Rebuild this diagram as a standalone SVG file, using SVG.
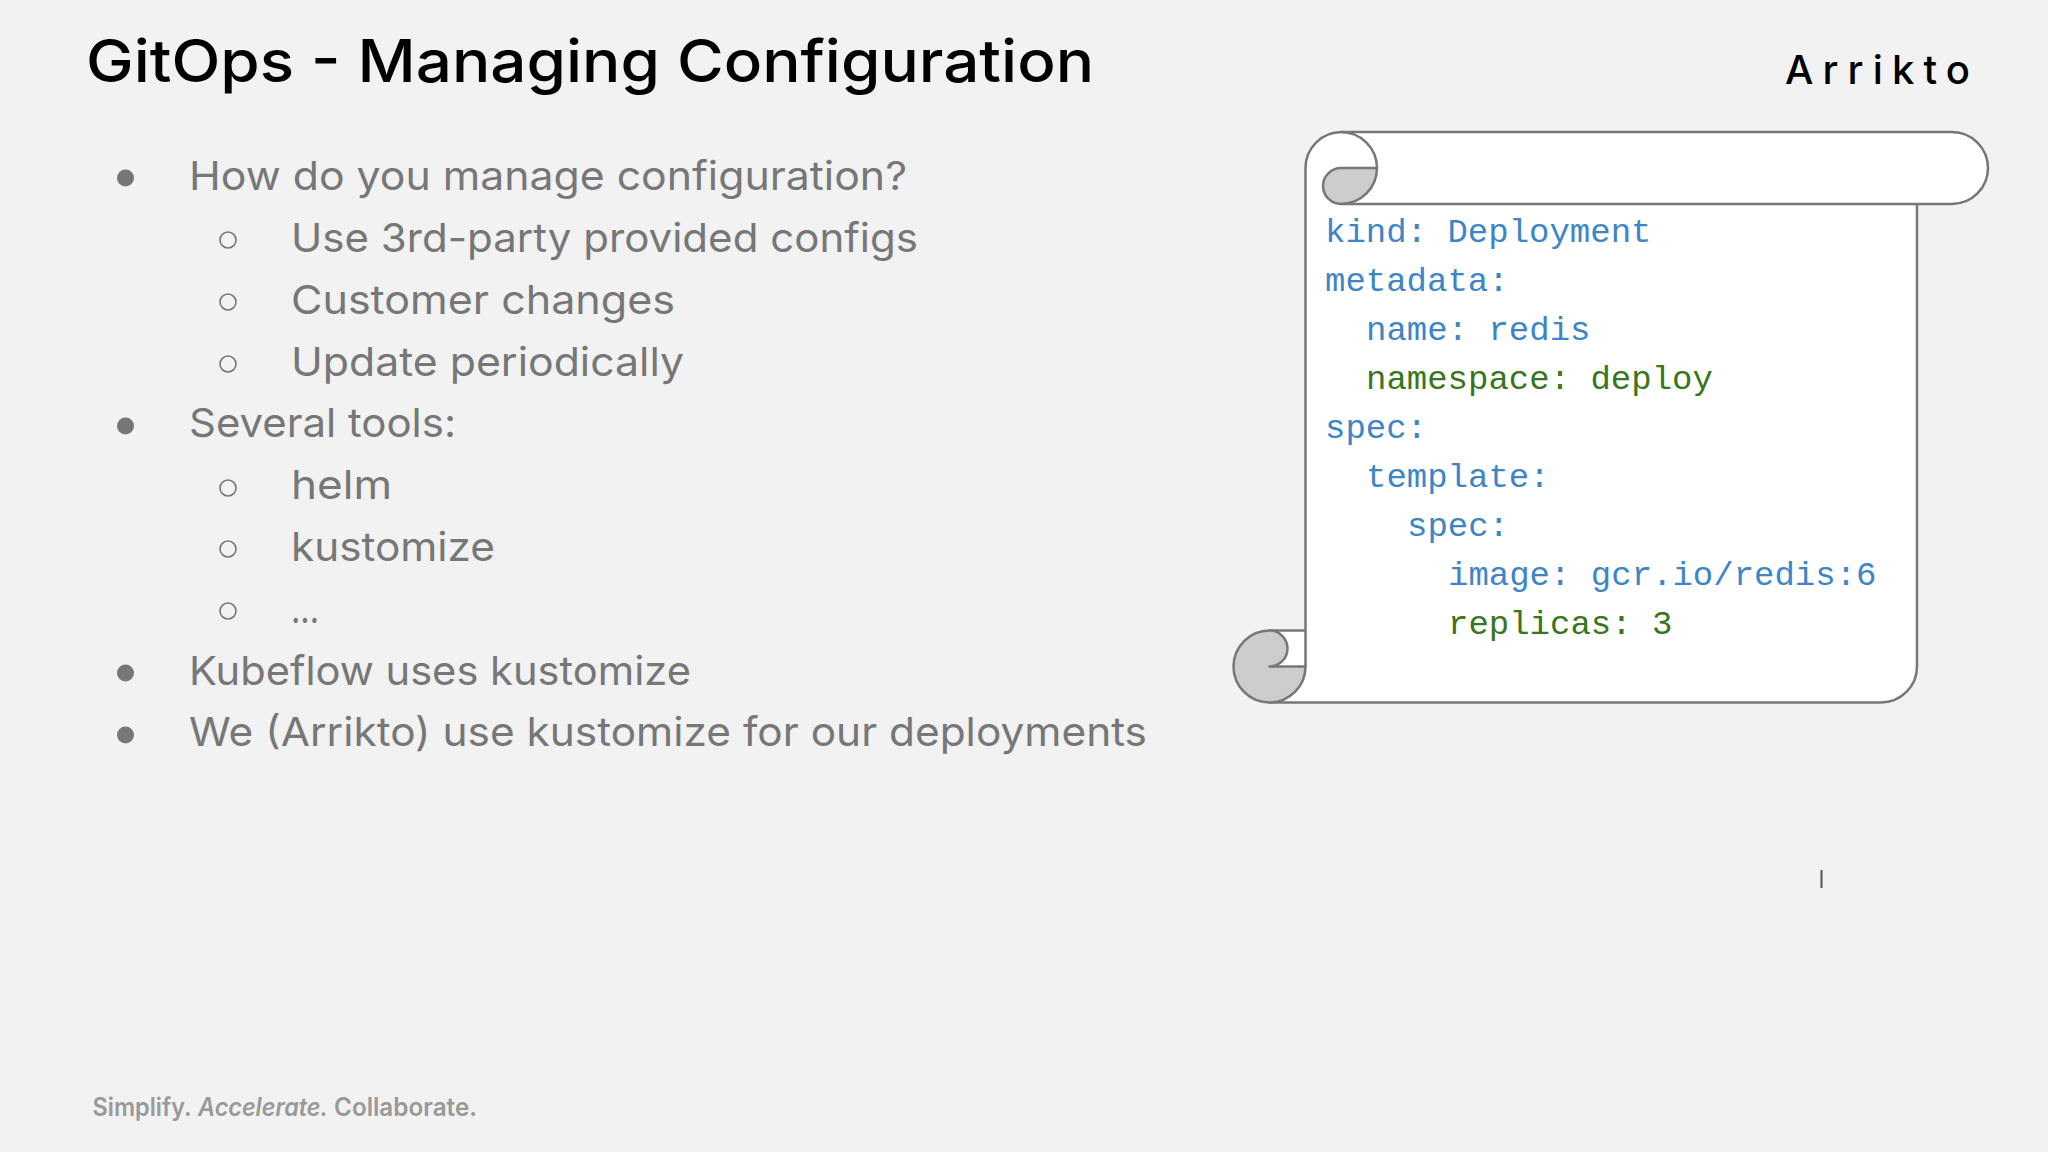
<svg xmlns="http://www.w3.org/2000/svg" width="2048" height="1152" viewBox="0 0 2048 1152">
<style>
.t{font-family:Inter,"Open Sans",sans-serif}
.title{font-size:59px;font-weight:500;fill:#000}
.b{font-size:40px;font-weight:420;fill:#777}
.foot{font-size:25px;font-weight:600;fill:#999}
.code{font-family:"Liberation Mono","DejaVu Sans Mono",monospace;font-size:34px}
.blue{fill:#3d85c6}.green{fill:#38761d}
.s{stroke:#777;stroke-width:2.5;stroke-linejoin:round}
.dot{fill:#777}.ring{fill:none;stroke:#777;stroke-width:1.6}
</style>
<rect width="2048" height="1152" fill="#f2f2f3"/>
<g id="title"><text class="t title" x="86" y="82" textLength="1008" lengthAdjust="spacingAndGlyphs">GitOps - Managing Configuration</text></g>
<g id="logo"><text class="t" x="1785" y="83.500" font-size="40" font-weight="550" fill="#000" textLength="185">Arrikto</text></g>
<g id="bullets">
<circle class="dot" cx="125.5" cy="178" r="8.5"/>
<text class="t b" x="189" y="190" textLength="718" lengthAdjust="spacingAndGlyphs">How do you manage configuration?</text>
<circle class="ring" cx="228" cy="240" r="8"/>
<text class="t b" x="291" y="252" textLength="627" lengthAdjust="spacingAndGlyphs">Use 3rd-party provided configs</text>
<circle class="ring" cx="228" cy="302" r="8"/>
<text class="t b" x="291" y="314" textLength="384" lengthAdjust="spacingAndGlyphs">Customer changes</text>
<circle class="ring" cx="228" cy="364" r="8"/>
<text class="t b" x="291" y="376" textLength="393" lengthAdjust="spacingAndGlyphs">Update periodically</text>
<circle class="dot" cx="125.5" cy="426" r="8.5"/>
<text class="t b" x="189" y="437" textLength="267" lengthAdjust="spacingAndGlyphs">Several tools:</text>
<circle class="ring" cx="228" cy="488" r="8"/>
<text class="t b" x="291" y="499" textLength="101" lengthAdjust="spacingAndGlyphs">helm</text>
<circle class="ring" cx="228" cy="549" r="8"/>
<text class="t b" x="291" y="561" textLength="204" lengthAdjust="spacingAndGlyphs">kustomize</text>
<circle class="ring" cx="228" cy="611" r="8"/>
<text class="t b" x="291" y="623" textLength="28" lengthAdjust="spacingAndGlyphs">...</text>
<circle class="dot" cx="125.5" cy="673" r="8.5"/>
<text class="t b" x="189" y="685" textLength="502" lengthAdjust="spacingAndGlyphs">Kubeflow uses kustomize</text>
<circle class="dot" cx="125.5" cy="735" r="8.5"/>
<text class="t b" x="189" y="746" textLength="958" lengthAdjust="spacingAndGlyphs">We (Arrikto) use kustomize for our deployments</text>
</g>
<g id="scroll">
<path class="s" fill="#fff" d="M1305.500 168A36 36 0 0 1 1341.500 132H1952A36 36 0 0 1 1952 204H1917V666.500A36 36 0 0 1 1881 702.500H1269.500V630.500H1305.500Z"/>
<path class="s" fill="#ccc" d="M1323 186A18 18 0 0 1 1341 168H1377A36 36 0 0 1 1341 204A18 18 0 0 1 1323 186Z"/>
<path class="s" fill="none" d="M1341 132A36 36 0 0 1 1377 168M1341 204H1917"/>
<path class="s" fill="none" d="M1305.500 630.500V667"/>
<path class="s" fill="#ccc" d="M1269.500 630.500A18 18 0 0 1 1269.500 666.500H1305.500A36 36 0 0 1 1269.500 702.500A36 36 0 0 1 1269.500 630.500Z"/>
</g>
<g id="code">
<text class="code blue" x="1325" y="241.500">kind: Deployment</text>
<text class="code blue" x="1325" y="290.500">metadata:</text>
<text class="code blue" x="1366" y="339.500">name: redis</text>
<text class="code green" x="1366" y="388.500">namespace: deploy</text>
<text class="code blue" x="1325" y="437.500">spec:</text>
<text class="code blue" x="1366" y="486.500">template:</text>
<text class="code blue" x="1407" y="535.500">spec:</text>
<text class="code blue" x="1448" y="584.500">image: gcr.io/redis:6</text>
<text class="code green" x="1448" y="633.500">replicas: 3</text>
</g>
<line id="tick" x1="1821.500" y1="870" x2="1821.500" y2="888" stroke="#555" stroke-width="2"/>
<g id="footer">
<text class="t foot" x="92.500" y="1116" textLength="99" lengthAdjust="spacingAndGlyphs">Simplify.</text>
<text class="t foot" x="198" y="1116" font-style="italic" textLength="130" lengthAdjust="spacingAndGlyphs">Accelerate.</text>
<text class="t foot" x="334" y="1116" textLength="143" lengthAdjust="spacingAndGlyphs">Collaborate.</text>
</g>
</svg>
